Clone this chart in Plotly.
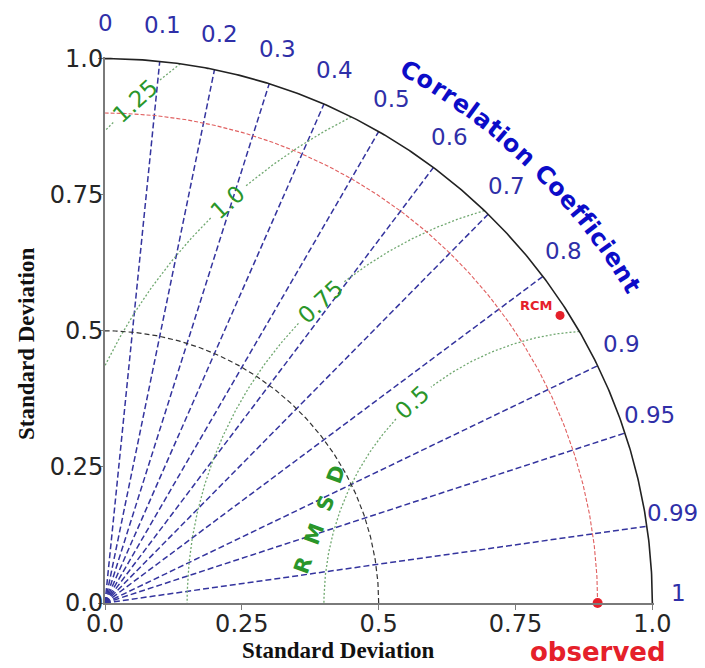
import numpy as np
import plotly.graph_objects as go

# ---------------- data ----------------
std_ticks = [0.0, 0.25, 0.5, 0.75, 1.0]
std_tick_labels = ["0.0", "0.25", "0.5", "0.75", "1.0"]

corr_lines = [0.1, 0.2, 0.3, 0.4, 0.5, 0.6, 0.7, 0.8, 0.9, 0.95, 0.99]
corr_tick_values = [0.0, 0.1, 0.2, 0.3, 0.4, 0.5, 0.6, 0.7, 0.8, 0.9, 0.95, 0.99, 1.0]
corr_tick_labels = ["0", "0.1", "0.2", "0.3", "0.4", "0.5", "0.6", "0.7", "0.8",
                    "0.9", "0.95", "0.99", "1"]

rmsd_levels = [0.5, 0.75, 1.0, 1.25]
rmsd_labels = ["0.5", "0.75", "1.0", "1.25"]

ref_std = 0.9
ref_name = "observed"

model_names = ["RCM"]
model_std = [0.985]
model_corr = [0.844]

max_std = 1.0
mid_std = 0.5

# ---------------- styles ----------------
BLUE_LINE = "#34349e"
BLUE_TXT = "#2f2fa8"
BLUE_TITLE = "#0c0cc8"
GREEN_ARC = "#70a870"
GREEN_TXT = "#2a962a"
RED = "#e5202a"
RED_ARC = "#e06060"
AXIS_GREY = "#7a7a7a"
TICK_TXT = "#262626"

AX_MAX = 1.003  # axis range upper bound (both axes)

fig = go.Figure()


def P(v):
    """data -> paper coordinate (axes span the full domain, range [0, AX_MAX])"""
    return float(v) / AX_MAX


def add_line(x, y, color, width, dash):
    fig.add_trace(go.Scatter(x=x, y=y, mode="lines", hoverinfo="skip",
                             line=dict(color=color, width=width, dash=dash),
                             showlegend=False))


def add_text(x, y, text, font, angle=0, xanchor="center", yanchor="middle", **kw):
    fig.add_annotation(x=P(x), y=P(y), xref="paper", yref="paper", text=text,
                       showarrow=False, textangle=angle, xanchor=xanchor,
                       yanchor=yanchor, font=font, **kw)


# correlation rays
for c in corr_lines:
    th = np.arccos(c)
    add_line([0, max_std * np.cos(th)], [0, max_std * np.sin(th)], BLUE_LINE, 1.5, "6px,3px")

# RMSD arcs centred on the reference point, with gaps where labels sit
lab_phi = np.deg2rad(132.5)
px_per_unit = 546.0
for R, lab in zip(rmsd_levels, rmsd_labels):
    cos_lo = (max_std ** 2 - ref_std ** 2 - R ** 2) / (2 * ref_std * R)
    phi_lo = np.arccos(np.clip(cos_lo, -1, 1))
    phi_hi = np.pi if R <= ref_std else np.arccos(-ref_std / R)
    half_w = (len(lab) * 0.6 * 23) / 2 + 3
    gap = half_w / (R * px_per_unit)
    for a, b in [(phi_lo, lab_phi - gap), (lab_phi + gap, phi_hi)]:
        if b > a:
            ph = np.linspace(a, b, 120)
            add_line(ref_std + R * np.cos(ph), R * np.sin(ph), GREEN_ARC, 1.3, "2px,2px")
    add_text(ref_std + R * np.cos(lab_phi), R * np.sin(lab_phi), lab,
             dict(family="DejaVu Sans", size=23, color=GREEN_TXT),
             angle=-(np.rad2deg(lab_phi) - 90))

# standard deviation arcs
th = np.linspace(0, np.pi / 2, 300)
add_line(mid_std * np.cos(th), mid_std * np.sin(th), "#333333", 1.2, "5px,3px")
add_line(ref_std * np.cos(th), ref_std * np.sin(th), RED_ARC, 1.1, "4px,2px")
add_line(max_std * np.cos(th), max_std * np.sin(th), "#222222", 1.6, "solid")

# reference point
fig.add_trace(go.Scatter(x=[ref_std], y=[0], mode="markers", cliponaxis=False,
                         marker=dict(color=RED, size=10), showlegend=False, hoverinfo="skip"))

# model points
mx = [s * c for s, c in zip(model_std, model_corr)]
my = [s * np.sin(np.arccos(c)) for s, c in zip(model_std, model_corr)]
fig.add_trace(go.Scatter(x=mx, y=my, mode="markers", cliponaxis=False,
                         marker=dict(color=RED, size=9), showlegend=False, hoverinfo="skip"))
for name, x, y in zip(model_names, mx, my):
    add_text(x, y, "<b>" + name + "</b>", dict(family="DejaVu Sans", size=13, color=RED),
             xanchor="right", xshift=-5, yshift=10)

# correlation tick labels
for v, lab in zip(corr_tick_values, corr_tick_labels):
    t = np.arccos(v)
    r = 1.048 * max_std
    add_text(r * np.cos(t), r * np.sin(t), lab,
             dict(family="DejaVu Sans", size=23, color=BLUE_TXT), yanchor="bottom",
             yshift=-5)

# curved title "Correlation Coefficient"
title = "Correlation Coefficient"
wtab = {"C": .734, "o": .687, "r": .493, "e": .678, "l": .343, "a": .675, "t": .478,
        "i": .343, "n": .712, " ": .348, "f": .435, "c": .593}
widths = [wtab[ch] for ch in title]
centers = np.cumsum(widths) - np.array(widths) / 2
frac = (centers - centers[0]) / (centers[-1] - centers[0])
th0, th1 = np.deg2rad(60.3), np.deg2rad(31.2)
rt = 1.125 * max_std
for ch, f in zip(title, frac):
    if ch == " ":
        continue
    a = th0 + (th1 - th0) * f
    add_text(rt * np.cos(a), rt * np.sin(a), "<b>" + ch + "</b>",
             dict(family="DejaVu Sans", size=24, color=BLUE_TITLE),
             angle=90 - np.rad2deg(a))

# RMSD label
add_text(0.393, 0.154, "<b>R  M  S  D</b>",
         dict(family="DejaVu Sans", size=21, color=GREEN_TXT), angle=-70)

# observed label
add_text(ref_std, -0.09, "<b>" + ref_name + "</b>",
         dict(family="DejaVu Sans", size=26, color=RED))

# axis titles
add_text(0.427, -0.088, "<b>Standard Deviation</b>",
         dict(family="Liberation Serif", size=23, color="#111111"))
add_text(-0.143, 0.477, "<b>Standard Deviation</b>",
         dict(family="Liberation Serif", size=23, color="#111111"), angle=-90)

axis_common = dict(range=[0, AX_MAX], tickvals=std_ticks, ticktext=std_tick_labels,
                   showgrid=False, zeroline=False, showline=True, linecolor=AXIS_GREY,
                   linewidth=2, ticks="outside", ticklen=5, tickcolor=AXIS_GREY,
                   tickfont=dict(family="DejaVu Sans", size=24, color=TICK_TXT))
fig.update_xaxes(**axis_common, ticklabelstandoff=-7)
fig.update_yaxes(**axis_common, ticklabelstandoff=-10)

fig.update_layout(width=705, height=668, margin=dict(l=105, r=51, t=57, b=65),
                  plot_bgcolor="white", paper_bgcolor="white", showlegend=False)

fig.write_html("out.html")
